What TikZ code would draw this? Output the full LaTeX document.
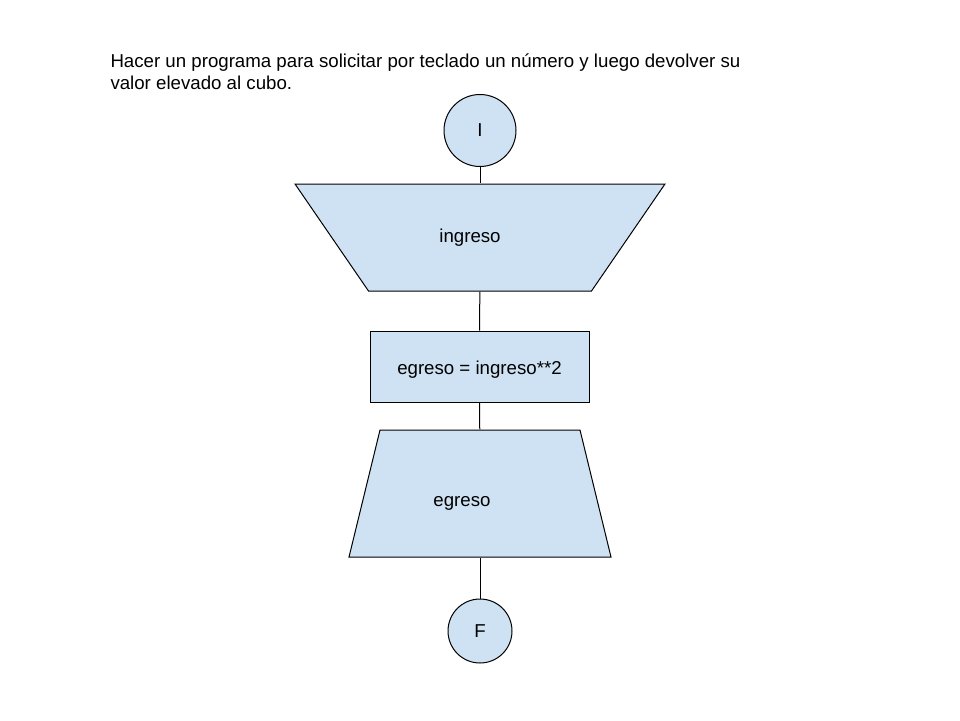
\documentclass[tikz,border=0pt]{standalone}
\usepackage{fontspec}
\setmainfont{Liberation Sans}
\usepackage{tikz}
\usetikzlibrary{shapes.geometric}
\definecolor{celeste}{HTML}{CFE2F3}

\begin{document}
\begin{tikzpicture}[x=1pt,y=-1pt,line width=1pt,font=\fontsize{18.67}{21.5}\selectfont,
  terminal/.style={circle,draw,fill=celeste,inner sep=0pt},
  proceso/.style={rectangle,draw,fill=celeste,minimum width=219pt,minimum height=71pt},
  datos/.style={trapezium,draw,fill=celeste,trapezium stretches=true}]
\useasboundingbox(0,0)rectangle(960,720);
\node[anchor=base west,align=left,inner sep=0pt](enunciado)at(110,89){Hacer un programa para solicitar por teclado un número y luego devolver su\\valor elevado al cubo.};
\node[terminal,minimum size=72pt](ini)at(480,130.5){I};
% entrada: trapecio invertido
\node[datos,shape border rotate=180,minimum width=370pt,minimum height=107pt,
  trapezium left angle=71.76,trapezium right angle=71.76,
  label={[xshift=-10pt]center:ingreso}](ing)at(480,237.5){};
\node[proceso,text height=20.5pt](calc)at(479.5,366.5){egreso = ingreso**2};
% salida
\node[datos,minimum width=262pt,minimum height=127pt,
  trapezium left angle=81.19,trapezium right angle=81.19,
  label={[xshift=-18pt,yshift=-10pt]center:egreso}](sal)at(480,493.5){};
\node[terminal,minimum size=64pt](fin)at(480,631){F};
\draw(ini)--(ing);
\draw(ing)--(calc);
\draw(calc)--(sal);
\draw(sal)--(fin);
\end{tikzpicture}
\end{document}
